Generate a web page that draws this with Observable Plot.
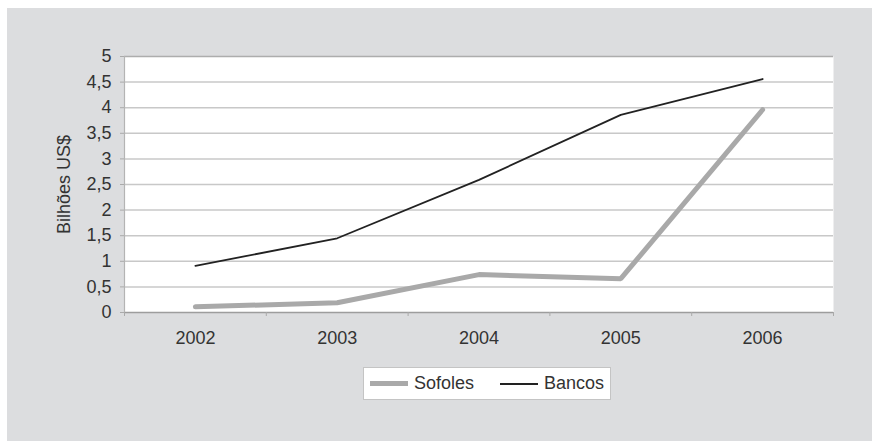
<!DOCTYPE html>
<html>
<head>
<meta charset="utf-8">
<script src="https://cdn.jsdelivr.net/npm/d3@7"></script>
<script src="https://cdn.jsdelivr.net/npm/@observablehq/plot@0.6"></script>
<style>
  html, body { margin: 0; padding: 0; background: #fff; }
  body { width: 872px; height: 441px; position: relative; overflow: hidden;
         font-family: "Liberation Sans", Arial, Helvetica, sans-serif; }
  #panel { position: absolute; left: 7px; top: 8px; right: 0; bottom: 0; background: #dcdddf; }
  #chart { position: absolute; left: 0; top: 0; }
  #legend { position: absolute; left: 363px; top: 367px; width: 246px; height: 31px;
            background: #fff; border: 1px solid #c4c4c4; }
  .item { position: absolute; top: 0; height: 31px; display: flex; align-items: center;
          font-size: 18px; color: #333; }
  .swatch { display: inline-block; width: 38px; margin-right: 6px; }
</style>
</head>
<body>
<div id="panel"></div>
<div id="chart"></div>
<div id="legend">
  <div class="item" style="left:6px"><span class="swatch" style="height:5px;background:#a9a9a9"></span>Sofoles</div>
  <div class="item" style="left:136px"><span class="swatch" style="height:2px;background:#222"></span>Bancos</div>
</div>
<script>
// Volume de crédito habitacional (bilhões de US$)
const years = [2002, 2003, 2004, 2005, 2006];
const sofoles = [0.11, 0.19, 0.74, 0.66, 3.96];
const bancos = [0.91, 1.45, 2.59, 3.86, 4.56];
const yTicks = [0, 0.5, 1, 1.5, 2, 2.5, 3, 3.5, 4, 4.5, 5];

const sofolesRows = years.map((year, i) => ({year, v: sofoles[i]}));
const bancosRows = years.map((year, i) => ({year, v: bancos[i]}));
// category boundaries for the small ticks under the x axis
const bounds = years.map(y => y - 0.5).concat([years[years.length - 1] + 0.5]);
const fmt = d => String(d).replace(".", ",");

const chart = Plot.plot({
  width: 872,
  height: 350,
  marginLeft: 124,
  marginRight: 39,
  marginTop: 56,
  marginBottom: 38,
  style: {background: "transparent", fontFamily: "'Liberation Sans', Arial, sans-serif", fontSize: "18px", color: "#333"},
  x: {domain: [bounds[0], bounds[bounds.length - 1]]},
  y: {domain: [0, 5]},
  marks: [
    Plot.frame({fill: "white", stroke: null}),
    Plot.ruleY(yTicks.slice(1, -1), {stroke: "#c8c8c8", strokeWidth: 1.5}),
    Plot.ruleY([5], {stroke: "#adadad", strokeWidth: 1.5}),
    Plot.ruleY([0], {stroke: "#9d9d9d", strokeWidth: 1.5}),
    Plot.ruleX([bounds[0]], {stroke: "#b4b4b4", strokeWidth: 1.2}),
    Plot.axisY(yTicks, {tickSize: 4, tickPadding: 9, tickFormat: fmt, stroke: "#aaa", fill: "#333",
      label: "Bilhões US$", labelAnchor: "center", labelOffset: 67, labelArrow: "none"}),
    Plot.axisX(bounds, {tickSize: 4, tickFormat: () => "", stroke: "#aaa", label: null}),
    Plot.axisX(years, {tickSize: 0, tickPadding: 19, tickFormat: d => String(d), fill: "#333", label: null}),
    Plot.line(sofolesRows, {x: "year", y: "v", stroke: "#a9a9a9", strokeWidth: 5, strokeLinejoin: "miter"}),
    Plot.line(bancosRows, {x: "year", y: "v", stroke: "#222", strokeWidth: 1.8, strokeLinejoin: "miter"})
  ]
});
document.getElementById("chart").appendChild(chart);
</script>
</body>
</html>
